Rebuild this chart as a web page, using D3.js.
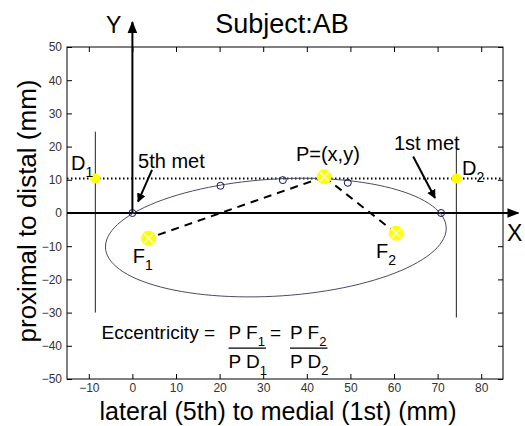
<!DOCTYPE html>
<head>
<meta charset="utf-8">
<title>Subject AB eccentricity</title>
<script src="https://cdn.jsdelivr.net/npm/d3@7/dist/d3.min.js"></script>
<style>
    body { margin: 0; background: #fff; }
    text { font-family: "Liberation Sans", Arial, sans-serif; }
</style>
</head>
<body>
<script>
    // ---- values (mm) ----
    var xTicks = [-10, 0, 10, 20, 30, 40, 50, 60, 70, 80];
    var yTicks = [-50, -40, -30, -20, -10, 0, 10, 20, 30, 40, 50];
    var xDomain = [-15, 85];
    var yDomain = [-50, 50];

    var pointNames = ["D1", "D2", "P", "F1", "F2"];
    var pointX = [-8.5, 74.3, 44.0, 3.7, 60.5];
    var pointY = [10.4, 10.4, 10.9, -7.6, -6.1];
    var pointBig = [false, false, true, true, true];

    // the measured contour points (open circles)
    var metX = [0, 20.2, 34.5, 49.4, 70.8];
    var metY = [0, 8.2, 9.9, 9.1, 0];

    // directrix lines through D1 and D2
    var dirX = [-8.5, 74.3];
    var dirTop = [24.5, 20];
    var dirBottom = [-30, -31.5];

    // fitted ellipse
    var ellCenter = [32.9, -7.4];
    var ellRadii = [39.2, 17.6];
    var ellAngle = 5.1; // degrees

    var dottedY = 10.4;

    var margin = {top: 47, right: 22, bottom: 47, left: 67};
    var W = 525, H = 426;

    var svg = d3.select("body").append("svg")
        .attr("width", W)
        .attr("height", H);

    var x = d3.scaleLinear().domain(xDomain).range([margin.left, W - margin.right]);
    var y = d3.scaleLinear().domain(yDomain).range([H - margin.bottom, margin.top]);

    var defs = svg.append("defs");
    defs.append("marker")
        .attr("id", "head")
        .attr("viewBox", "0 0 10 10")
        .attr("refX", 9).attr("refY", 5)
        .attr("markerWidth", 9).attr("markerHeight", 9)
        .attr("markerUnits", "userSpaceOnUse")
        .attr("orient", "auto")
        .append("path")
        .attr("d", "M0,0 L10,5 L0,10 z")
        .attr("fill", "black");
    defs.append("marker")
        .attr("id", "bighead")
        .attr("viewBox", "0 0 10 10")
        .attr("refX", 9).attr("refY", 5)
        .attr("markerWidth", 12).attr("markerHeight", 12)
        .attr("markerUnits", "userSpaceOnUse")
        .attr("orient", "auto")
        .append("path")
        .attr("d", "M0,1 L10,5 L0,9 z")
        .attr("fill", "black");

    // axes, ticks pointing in like matlab
    function styleAxis(g) {
        g.select(".domain").remove();
        g.selectAll("line").attr("stroke", "#000");
        g.selectAll("text")
            .style("font-size", "12px")
            .attr("fill", "#333");
    }
    svg.append("g")
        .attr("transform", "translate(0," + y(-50) + ")")
        .call(d3.axisBottom(x).tickValues(xTicks).tickSize(-5).tickPadding(4))
        .call(styleAxis);
    svg.append("g")
        .attr("transform", "translate(0," + y(50) + ")")
        .call(d3.axisTop(x).tickValues(xTicks).tickSize(-5).tickFormat(""))
        .call(styleAxis);
    svg.append("g")
        .attr("transform", "translate(" + x(-15) + ",0)")
        .call(d3.axisLeft(y).tickValues(yTicks).tickSize(-5).tickPadding(5))
        .call(styleAxis);
    svg.append("g")
        .attr("transform", "translate(" + x(85) + ",0)")
        .call(d3.axisRight(y).tickValues(yTicks).tickSize(-5).tickFormat(""))
        .call(styleAxis);

    svg.append("rect")
        .attr("x", x(-15)).attr("y", y(50))
        .attr("width", x(85) - x(-15))
        .attr("height", y(-50) - y(50))
        .attr("fill", "none")
        .attr("stroke", "#000")
        .attr("stroke-width", 1);

    // dotted line
    svg.append("line")
        .attr("x1", x(-15)).attr("x2", x(85))
        .attr("y1", y(dottedY)).attr("y2", y(dottedY))
        .attr("stroke", "#000")
        .attr("stroke-width", 2)
        .attr("stroke-dasharray", "1.5,2.5");

    // directrix lines
    svg.selectAll(".dir")
        .data(dirX)
        .enter().append("line")
        .attr("x1", d => x(d)).attr("x2", d => x(d))
        .attr("y1", (d, i) => y(dirTop[i]))
        .attr("y2", (d, i) => y(dirBottom[i]))
        .attr("stroke", "#222")
        .attr("stroke-width", 1);

    // big X / Y axis arrows
    svg.append("line")
        .attr("x1", x(-15)).attr("x2", x(88.5))
        .attr("y1", y(0)).attr("y2", y(0))
        .attr("stroke", "#000").attr("stroke-width", 2)
        .attr("marker-end", "url(#bighead)");
    svg.append("line")
        .attr("x1", x(0)).attr("x2", x(0))
        .attr("y1", y(0)).attr("y2", y(57.5))
        .attr("stroke", "#000").attr("stroke-width", 2)
        .attr("marker-end", "url(#bighead)");

    // ellipse outline
    var th = ellAngle * Math.PI / 180;
    var ellPts = d3.range(0, 360, 3).map(function(a) {
        var t = a * Math.PI / 180;
        var u = ellRadii[0] * Math.cos(t), v = ellRadii[1] * Math.sin(t);
        return [ellCenter[0] + u * Math.cos(th) - v * Math.sin(th),
                ellCenter[1] + u * Math.sin(th) + v * Math.cos(th)];
    });
    svg.append("path")
        .attr("d", d3.line().x(d => x(d[0])).y(d => y(d[1])).curve(d3.curveCardinalClosed)(ellPts))
        .attr("fill", "none")
        .attr("stroke", "#4a4a66")
        .attr("stroke-width", 1);

    // dashed P-F lines
    var iP = pointNames.indexOf("P");
    ["F1", "F2"].forEach(function(f) {
        var j = pointNames.indexOf(f);
        svg.append("line")
            .attr("x1", x(pointX[iP])).attr("y1", y(pointY[iP]))
            .attr("x2", x(pointX[j])).attr("y2", y(pointY[j]))
            .attr("stroke", "#000")
            .attr("stroke-width", 2)
            .attr("stroke-dasharray", "8,6");
    });

    // open circles
    svg.selectAll(".met")
        .data(metX)
        .enter().append("circle")
        .attr("cx", d => x(d))
        .attr("cy", (d, i) => y(metY[i]))
        .attr("r", 3.5)
        .attr("fill", "none")
        .attr("stroke", "#101060")
        .attr("stroke-width", 1);

    // yellow points
    pointNames.forEach(function(n, i) {
        var cx = x(pointX[i]), cy = y(pointY[i]);
        var r = pointBig[i] ? 7.5 : 5;
        svg.append("circle")
            .attr("cx", cx).attr("cy", cy).attr("r", r)
            .attr("fill", "#ffff00");
        if (pointBig[i]) {
            var k = 4.5;
            svg.append("path")
                .attr("d", "M" + (cx - k) + "," + (cy - k) + "L" + (cx + k) + "," + (cy + k) +
                           "M" + (cx - k) + "," + (cy + k) + "L" + (cx + k) + "," + (cy - k))
                .attr("stroke", "#fff")
                .attr("stroke-width", 1.3);
        }
    });

    // annotation arrows
    function arrow(x1, y1, x2, y2) {
        svg.append("line")
            .attr("x1", x(x1)).attr("y1", y(y1))
            .attr("x2", x(x2)).attr("y2", y(y2))
            .attr("stroke", "#000").attr("stroke-width", 2)
            .attr("marker-end", "url(#head)");
    }
    arrow(4.5, 13, 1.3, 3.4);
    arrow(64.4, 17, 69.4, 4.5);

    // labels
    function label(px, py, txt, size, sub) {
        var t = svg.append("text")
            .attr("x", px).attr("y", py)
            .style("font-size", size + "px")
            .attr("fill", "#000")
            .text(txt);
        if (sub) {
            t.append("tspan")
                .attr("dy", 7)
                .style("font-size", Math.round(size * 0.7) + "px")
                .text(sub);
        }
        return t;
    }
    label(x(1.3), y(13.6), "5th met", 20);
    label(x(60), y(19), "1st met", 20);
    label(x(37.5), y(15.75), "P=(x,y)", 20);
    label(x(-14.1), y(13), "D", 20, "1");
    label(x(75.6), y(11.4), "D", 20, "2");
    label(x(0.1), y(-15.2), "F", 20, "1");
    label(x(55.9), y(-13.6), "F", 20, "2");

    // eccentricity formula
    var eqBase = y(-38);
    label(101.5, eqBase, "Eccentricity =", 19);
    label(228.5, eqBase, "P F", 19, "1");
    label(270, eqBase, "=", 19);
    label(290, eqBase, "P F", 19, "2");
    label(228.5, eqBase + 29, "P D", 19, "1");
    label(290, eqBase + 29, "P D", 19, "2");
    [[228.5, 266], [290, 327.5]].forEach(function(b) {
        svg.append("line")
            .attr("x1", b[0]).attr("x2", b[1])
            .attr("y1", eqBase + 9).attr("y2", eqBase + 9)
            .attr("stroke", "#000").attr("stroke-width", 1.3);
    });

    // axis letters
    label(106, 33, "Y", 23);
    label(507, 241, "X", 23);

    // titles
    svg.append("text")
        .attr("x", 282).attr("y", 33)
        .attr("text-anchor", "middle")
        .style("font-size", "27px")
        .text("Subject:AB");
    svg.append("text")
        .attr("x", (x(-15) + x(85)) / 2 - 7).attr("y", 420)
        .attr("text-anchor", "middle")
        .style("font-size", "25px")
        .text("lateral (5th) to medial (1st) (mm)");
    svg.append("text")
        .attr("transform", "translate(36," + (y(0) - 2) + ") rotate(-90)")
        .attr("text-anchor", "middle")
        .style("font-size", "26px")
        .text("proximal to distal (mm)");
</script>
</body>
</html>
